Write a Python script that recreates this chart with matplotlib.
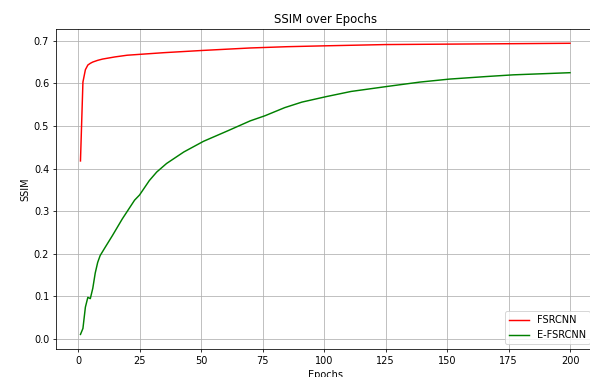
import matplotlib
matplotlib.use('Agg')
from matplotlib import pyplot as plt

# values
fsrcnn_epochs = [1, 2, 3, 4, 5, 6, 8, 10, 15, 20, 25, 35, 50, 70, 85, 100, 125, 150, 175, 200]
fsrcnn_ssim = [0.418, 0.603, 0.632, 0.643, 0.647, 0.650, 0.654, 0.657, 0.662, 0.666,
               0.668, 0.672, 0.677, 0.683, 0.686, 0.688, 0.691, 0.692, 0.693, 0.694]

efsrcnn_epochs = [1, 2, 3, 4, 5, 6, 7, 8, 9, 11, 14, 18, 23, 25, 29, 32, 36, 43, 51, 61,
                  70, 76, 84, 91, 101, 111, 126, 139, 151, 166, 177, 200]
efsrcnn_ssim = [0.011, 0.025, 0.075, 0.098, 0.095, 0.119, 0.155, 0.180, 0.196, 0.215,
                0.243, 0.282, 0.326, 0.338, 0.372, 0.392, 0.412, 0.439, 0.464, 0.489,
                0.512, 0.524, 0.543, 0.556, 0.569, 0.581, 0.593, 0.603, 0.610, 0.616,
                0.620, 0.625]

fig = plt.figure(figsize=(590 / 70, 377 / 70), dpi=70)
ax = fig.add_axes([0.0949, 0.0743, 0.9127, 0.8495])

ax.plot(fsrcnn_epochs, fsrcnn_ssim, color='red', label='FSRCNN')
ax.plot(efsrcnn_epochs, efsrcnn_ssim, color='green', label='E-FSRCNN')

ax.set_title('SSIM over Epochs')
ax.set_xlabel('Epochs')
ax.set_ylabel('SSIM')
ax.set_xticks([0, 25, 50, 75, 100, 125, 150, 175, 200])
ax.grid(True)
ax.legend(loc='lower right')

fig.savefig('out.png', dpi=70)
